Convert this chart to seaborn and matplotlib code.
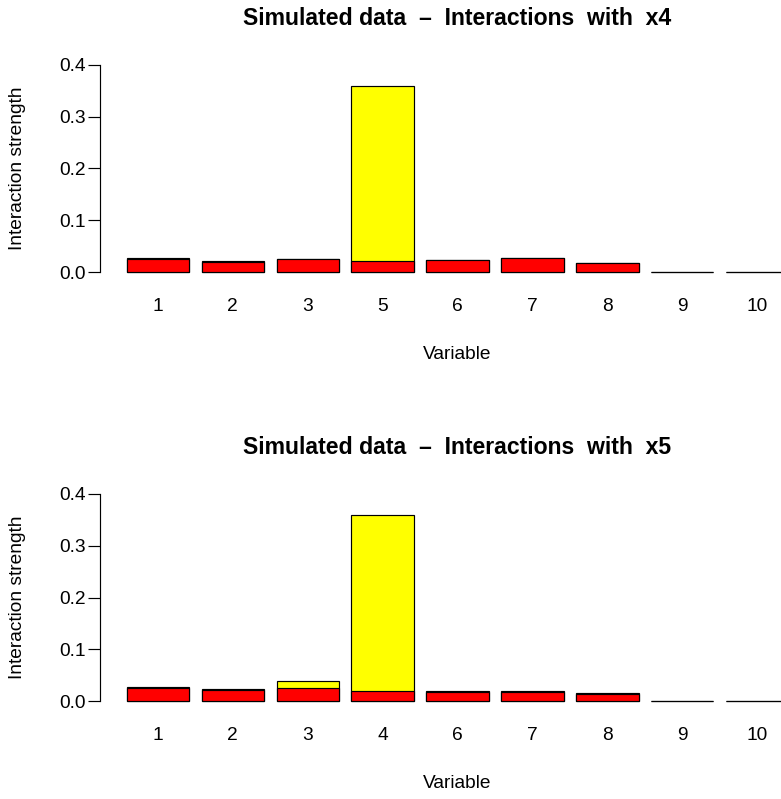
import matplotlib
matplotlib.use("Agg")
import matplotlib.pyplot as plt
import seaborn as sns

# ---- data ----
top_vars = ["1", "2", "3", "5", "6", "7", "8", "9", "10"]
top_total = [0.027, 0.021, 0.025, 0.359, 0.023, 0.027, 0.017, 0.001, 0.001]
top_null = [0.026, 0.020, 0.0245, 0.021, 0.0225, 0.0265, 0.0168, 0.0005, 0.0005]

bottom_vars = ["1", "2", "3", "4", "6", "7", "8", "9", "10"]
bottom_total = [0.027, 0.023, 0.0385, 0.359, 0.019, 0.019, 0.0147, 0.0005, 0.0005]
bottom_null = [0.0245, 0.021, 0.025, 0.0195, 0.0182, 0.018, 0.0145, 0.0003, 0.0003]

titles = ["Simulated data  \u2013  Interactions  with  x4",
          "Simulated data  \u2013  Interactions  with  x5"]
y_ticks = [0.0, 0.1, 0.2, 0.3, 0.4]
y_tick_labels = ["0.0", "0.1", "0.2", "0.3", "0.4"]

sns.set_style("white")
plt.rcParams["font.family"] = ["Liberation Sans", "DejaVu Sans"]
plt.rcParams["text.color"] = "black"
plt.rcParams["axes.labelcolor"] = "black"
plt.rcParams["axes.titlecolor"] = "black"

W, H = 781, 799
fig = plt.figure(figsize=(W / 100, H / 100), dpi=100)

left = 100.3 / W
width = 714.5 / W
ax_h = (280.3 - 56.7) / H
bottoms = [(H - 280.3) / H, (H - 709.3) / H]

panels = [(top_vars, top_total, top_null), (bottom_vars, bottom_total, bottom_null)]

for i, (vars_, total, null) in enumerate(panels):
    ax = fig.add_axes([left, bottoms[i], width, ax_h])
    sns.barplot(x=vars_, y=total, color="#FFFF00", edgecolor="black", linewidth=0.85,
                width=1 / 1.2, saturation=1, ax=ax, errorbar=None)
    sns.barplot(x=vars_, y=null, color="#FF0000", edgecolor="black", linewidth=0.85,
                width=1 / 1.2, saturation=1, ax=ax, errorbar=None)
    ax.set_xlim(-0.77, 8.77)
    ax.set_ylim(-0.016, 0.416)
    for s in ["top", "right", "bottom"]:
        ax.spines[s].set_visible(False)
    ax.spines["left"].set_bounds(0, 0.4)
    ax.spines["left"].set_linewidth(0.85)
    ax.spines["left"].set_color("black")
    ax.set_yticks(y_ticks)
    ax.set_yticklabels(y_tick_labels)
    ax.tick_params(axis="y", left=True, length=8.4, width=0.85, pad=1.9,
                   labelsize=13.8, colors="black")
    ax.tick_params(axis="x", bottom=False, length=0, pad=12.4, labelsize=13.8,
                   colors="black")
    ax.set_xlabel("Variable", fontsize=13.8, va="center", color="black")
    ax.xaxis.set_label_coords(0.5, -0.334)
    ax.set_ylabel("Interaction strength", fontsize=13.8, va="center", color="black")
    ax.yaxis.set_label_coords(-0.1152, 0.5)
    ax.set_title(titles[i], fontsize=16.6, fontweight="bold", va="center", y=1.173,
                 pad=0, color="black")
    ax.grid(False)

fig.savefig("out.png", dpi=100)
